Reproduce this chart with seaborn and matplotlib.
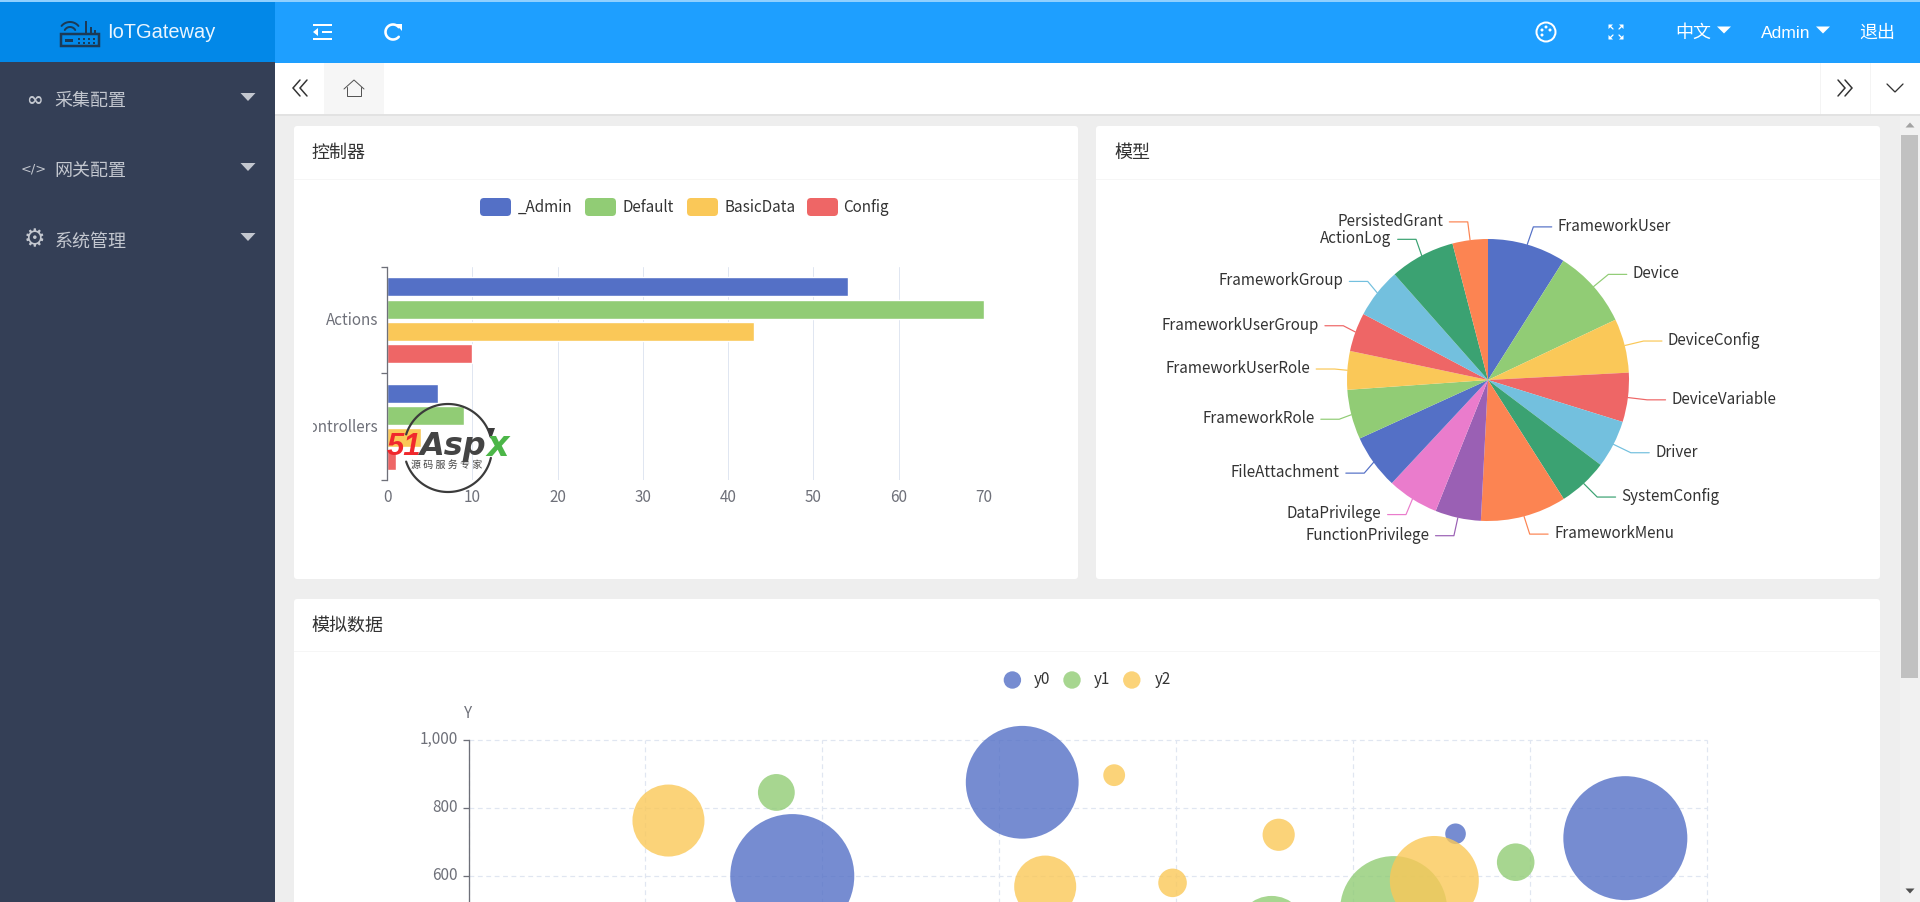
import numpy as np
import pandas as pd
import matplotlib
matplotlib.use("Agg")  # Headless mode for saving files
import matplotlib.pyplot as plt
import seaborn as sns
from matplotlib.patches import Rectangle, FancyBboxPatch, Polygon, Circle
from matplotlib.transforms import Bbox, ScaledTranslation

# Bar chart data
BAR_KINDS = ["Actions", "Controllers"]
BAR_GROUPS = ["_Admin", "Default", "BasicData", "Config"]
ACTIONS_COUNTS = [54, 70, 43, 10]
CONTROLLERS_COUNTS = [6, 9, 4, 1]
BAR_TICKS = [0, 10, 20, 30, 40, 50, 60, 70]

# Pie chart data
PIE_LABELS = [
    "FrameworkUser", "Device", "DeviceConfig", "DeviceVariable", "Driver",
    "SystemConfig", "FrameworkMenu", "FunctionPrivilege", "DataPrivilege",
    "FileAttachment", "FrameworkRole", "FrameworkUserRole",
    "FrameworkUserGroup", "FrameworkGroup", "ActionLog", "PersistedGrant",
]
PIE_VALUES = [32.3, 32.4, 22.3, 20.3, 19.7, 20.5, 35.4, 18.9,
              21.2, 22.5, 20.5, 15.9, 16.0, 20.6, 26.9, 14.6]

# Sideways pull of each leader elbow, pixels
LEADER_SHIFT = [1, 1, 1, 1, 1, 1, 1, 0, 3.4, 5.6, 5.7, 5.6, 5.2, 5, 3, 0]

# Bubble chart data
Y0_X = [183, 313, 558, 654]
Y0_Y = [599, 876, 724, 711]
Y0_SIZE = [3844, 3181, 106, 3844]
Y1_X = [174, 523, 592, 454]
Y1_Y = [846, 500, 640, 437]
Y1_SIZE = [339, 2862, 353, 1225]
Y2_X = [113, 326, 365, 398, 458, 546]
Y2_Y = [763, 568, 897, 579, 721, 586]
Y2_SIZE = [1296, 961, 119, 204, 259, 1980]
BUBBLE_YTICKS = [600, 800, 1000]
BUBBLE_YLABELS = ["600", "800", "1,000"]
BUBBLE_XTICKS = [0, 100, 200, 300, 400, 500, 600, 700]

# Page text
MENU_ITEMS = ["采集配置", "网关配置", "系统管理"]
CARD_TITLES = ["控制器", "模型", "模拟数据"]

# Colors
PALETTE = ["#5470c6", "#91cc75", "#fac858", "#ee6666", "#73c0de",
           "#3ba272", "#fc8452", "#9a60b4", "#ea7ccc"]
HEADER = "#1e9fff"
LOGO_BG = "#0288e8"
SIDEBAR = "#343f56"
PAGE_BG = "#eeeeee"
AXIS_COLOR = "#6e7079"
GRID_COLOR = "#e0e6f1"
TEXT_COLOR = "#333333"
MENU_TEXT = "#c3c7cf"

W, H = 1920, 902
CJK = ["Noto Sans CJK SC", "DejaVu Sans"]
CHART_FONT = 15.2

sns.set_theme(style="white")
plt.rcParams["font.family"] = CJK


def px(size):
    """Font size or line width in points from screen pixels."""
    return size * 0.72


def axes_px(fig, left, top, right, bottom, **kwargs):
    return fig.add_axes([left / W, 1 - bottom / H, (right - left) / W, (bottom - top) / H], **kwargs)


def pixel_layer(fig, zorder):
    ax = fig.add_axes([0, 0, 1, 1], zorder=zorder)
    ax.set_xlim(0, W)
    ax.set_ylim(H, 0)
    ax.axis("off")
    ax.patch.set_alpha(0)
    return ax


def rect(ax, x0, y0, x1, y1, color):
    ax.add_patch(Rectangle((x0, y0), x1 - x0, y1 - y0, facecolor=color, edgecolor="none"))


def card(ax, x0, y0, x1, y1):
    ax.add_patch(FancyBboxPatch((x0 + 2, y0 + 2), x1 - x0 - 4, y1 - y0 - 4,
                                boxstyle="round,pad=2,rounding_size=3",
                                facecolor="white", edgecolor="none"))


def polyline(ax, xs, ys, color, lw=1.5):
    ax.plot(xs, ys, color=color, lw=px(lw), solid_capstyle="round", solid_joinstyle="miter")


def triangle(ax, x, y, w, h, color, up=False):
    if up:
        pts = [(x - w / 2, y + h / 2), (x + w / 2, y + h / 2), (x, y - h / 2)]
    else:
        pts = [(x - w / 2, y - h / 2), (x + w / 2, y - h / 2), (x, y + h / 2)]
    ax.add_patch(Polygon(pts, closed=True, facecolor=color, edgecolor="none"))


def arc(ax, x, y, r, a0, a1, color, lw=1.5):
    t = np.radians(np.linspace(a0, a1, 60))
    ax.plot(x + r * np.cos(t), y - r * np.sin(t), color=color, lw=px(lw))


def nudge(labels, dy):
    # Move tick labels down by dy pixels
    for label in labels:
        offset = ScaledTranslation(0, -dy / 100, label.figure.dpi_scale_trans)
        label.set_transform(label.get_transform() + offset)


def draw_page(ax):
    # Main blocks
    rect(ax, 0, 0, W, H, PAGE_BG)
    rect(ax, 0, 62, 275, H, SIDEBAR)
    rect(ax, 275, 0, W, 63, HEADER)
    rect(ax, 0, 0, 275, 62, LOGO_BG)
    rect(ax, 0, 0, W, 1.5, "#8fd0ff")
    rect(ax, 275, 63, W, 114, "white")
    rect(ax, 275, 114, W, 115.5, "#e2e2e2")
    rect(ax, 324, 63, 384, 114, "#f6f6f6")
    rect(ax, 1820, 63, 1821, 114, "#f4f4f4")
    rect(ax, 1870, 63, 1871, 114, "#f4f4f4")

    # Scrollbar
    rect(ax, 1900, 115.5, W, H, "#f1f1f1")
    rect(ax, 1901, 135, 1918, 678, "#c1c1c1")
    triangle(ax, 1910, 125, 9, 5, "#a3a3a3", up=True)
    triangle(ax, 1910, 891, 9, 5, "#505050")

    # Cards
    card(ax, 294, 126, 1078, 579)
    card(ax, 1096, 126, 1880, 579)
    card(ax, 294, 599, 1880, 930)
    rect(ax, 294, 179, 1078, 180, "#f6f6f6")
    rect(ax, 1096, 179, 1880, 180, "#f6f6f6")
    rect(ax, 294, 651, 1880, 652, "#f6f6f6")
    for x, y, title in zip([311, 1114, 311], [153, 153, 626], CARD_TITLES):
        ax.text(x, y, title, fontsize=px(18), color=TEXT_COLOR, va="center", ha="left")

    # Logo
    dark = "#1b3a57"
    ax.add_patch(Rectangle((61, 34), 38, 12, facecolor="none", edgecolor=dark, lw=px(2.5)))
    rect(ax, 85, 21, 87, 34, dark)
    rect(ax, 90, 27, 92, 34, dark)
    rect(ax, 94, 30, 96, 34, dark)
    rect(ax, 65, 39, 73, 42, dark)
    for dx in (78, 83, 88, 93):
        rect(ax, dx, 38, dx + 2, 40, dark)
        rect(ax, dx, 42, dx + 2, 44, dark)
    arc(ax, 70, 33, 6, 30, 150, dark, 2)
    arc(ax, 70, 33, 11, 40, 140, dark, 2)
    ax.text(107, 33, "IoTGateway", fontsize=px(20), color="#eaf5ff", va="center",
            ha="left", family="Liberation Sans")

    # Sidebar menu
    for y, label in zip([99, 169, 239], MENU_ITEMS):
        ax.text(54.5, y + 2.2, label, fontsize=px(18), color=MENU_TEXT, va="center", ha="left")
        triangle(ax, 248, y - 2, 15, 8, MENU_TEXT)
    ax.text(34, 100, "∞", fontsize=px(20), color=MENU_TEXT, va="center", ha="center",
            family="DejaVu Sans", fontweight="bold")
    ax.text(34, 169, "</>", fontsize=px(13), color=MENU_TEXT, va="center", ha="center", family="DejaVu Sans")
    ax.text(34, 239, "⚙", fontsize=px(24), color=MENU_TEXT, va="center", ha="center", family="DejaVu Sans")

    # Header left icons
    for y in (25, 32, 39):
        x0 = 313 if y != 32 else 322
        rect(ax, x0, y - 1.3, 332, y + 1.3, "white")
    triangle_pts = [(318, 28), (318, 36), (313, 32)]
    ax.add_patch(Polygon(triangle_pts, closed=True, facecolor="white", edgecolor="none"))
    arc(ax, 393, 32, 7.5, 40, 320, "white", 2.6)
    ax.add_patch(Polygon([(396, 24), (402, 24), (402, 31)], closed=True, facecolor="white", edgecolor="none"))

    # Header right icons and text
    ax.add_patch(Circle((1546, 32), 9.5, facecolor="none", edgecolor="white", lw=px(2)))
    for dx, dy in [(-4, -2), (0, -5), (4, -2), (-4, 3)]:
        ax.add_patch(Circle((1546 + dx, 32 + dy), 1.5, facecolor="white", edgecolor="none"))
    for sx, sy in [(-1, -1), (1, -1), (-1, 1), (1, 1)]:
        polyline(ax, [1616 + sx * 3, 1616 + sx * 6.5], [32 + sy * 3, 32 + sy * 6.5], "white", 1.3)
        tip_x, tip_y = 1616 + sx * 7.5, 32 + sy * 7.5
        ax.add_patch(Polygon([(tip_x, tip_y), (tip_x - sx * 4.5, tip_y), (tip_x, tip_y - sy * 4.5)],
                             closed=True, facecolor="white", edgecolor="none"))
    ax.text(1675.5, 33, "中文", fontsize=px(18), color="white", va="center", ha="left")
    triangle(ax, 1724, 30, 14, 7, "white")
    ax.text(1761, 33, "Admin", fontsize=px(17.5), color="white", va="center", ha="left", family="Liberation Sans")
    triangle(ax, 1823, 30, 14, 7, "white")
    ax.text(1859, 33, "退出", fontsize=px(18), color="white", va="center", ha="left")

    # Tab bar icons
    for dx in (0, 7):
        polyline(ax, [300 + dx, 293 + dx, 300 + dx], [80, 88, 96], "#333333", 1.5)
        polyline(ax, [1838 + dx, 1845 + dx, 1838 + dx], [80, 88, 96], "#333333", 1.5)
    polyline(ax, [1887, 1895, 1903], [84, 92, 84], "#333333", 1.3)
    polyline(ax, [344, 354, 364], [89, 80, 89], "#555555", 1)
    polyline(ax, [347, 347, 361, 361], [87, 96, 96, 87], "#555555", 1)


def draw_legends(ax):
    # Bar legend swatches
    swatch_x = [480, 585, 687, 807]
    text_x = [518, 622.5, 725, 843.5]
    for i, name in enumerate(BAR_GROUPS):
        ax.add_patch(FancyBboxPatch((swatch_x[i] + 4, 202), 23, 10,
                                    boxstyle="round,pad=4,rounding_size=4",
                                    facecolor=PALETTE[i], edgecolor="none"))
        ax.text(text_x[i], 207, name, fontsize=px(CHART_FONT), color=TEXT_COLOR, va="center", ha="left")

    # Bubble legend markers
    dot_x = [1012.4, 1072, 1131.8]
    label_x = [1034, 1094, 1154.6]
    for i, name in enumerate(["y0", "y1", "y2"]):
        ax.add_patch(Circle((dot_x[i], 680), 8.7, facecolor=PALETTE[i], edgecolor="none", alpha=0.8))
        ax.text(label_x[i], 680, name, fontsize=px(CHART_FONT), color=TEXT_COLOR, va="center", ha="left")
    ax.text(467.6, 713.7, "Y", fontsize=px(CHART_FONT), color=AXIS_COLOR, va="center", ha="center")


def draw_watermark(ax):
    # Site stamp across the lower bars
    stroke = "#3b3b3b"
    arc(ax, 448, 448, 44, 15, 162, stroke, 2.2)
    arc(ax, 448, 448, 44, -13, -162, stroke, 2.2)
    ax.add_patch(Polygon([(487, 428), (495, 428), (491, 439)], closed=True, facecolor=stroke, edgecolor="none"))
    ax.text(387, 447, "51", color="#f0282d", fontsize=px(31), fontweight="bold", fontstyle="italic",
            va="center", ha="left", family="Liberation Sans")
    ax.text(419, 446, "Asp", color="#444444", fontsize=px(32), fontweight="bold", fontstyle="oblique",
            va="center", ha="left", family="DejaVu Sans")
    ax.text(486, 446, "x", color="#4cb648", fontsize=px(35), fontweight="bold", fontstyle="oblique",
            va="center", ha="left", family="DejaVu Sans")
    ax.text(447, 465, "源 码 服 务 专 家", fontsize=px(10), color="#444444", va="center", ha="center")


def draw_bar_chart(fig):
    df = pd.DataFrame({
        "kind": [BAR_KINDS[0]] * 4 + [BAR_KINDS[1]] * 4,
        "group": BAR_GROUPS * 2,
        "count": ACTIONS_COUNTS + CONTROLLERS_COUNTS,
    })
    ax = axes_px(fig, 387, 267, 984, 480, zorder=2)
    ax.patch.set_alpha(0)
    sns.barplot(data=df, x="count", y="kind", hue="group", hue_order=BAR_GROUPS,
                palette=PALETTE[:4], saturation=1, width=0.838, gap=0.14,
                legend=False, ax=ax)
    ax.set_xlim(0, 70)
    ax.set_ylim(1.5, -0.5)
    ax.set_xlabel("")
    ax.set_ylabel("")
    sns.despine(ax=ax, top=True, right=True, bottom=True, left=False)
    ax.spines["left"].set_color(AXIS_COLOR)
    ax.spines["left"].set_linewidth(px(1.3))

    ax.set_xticks(BAR_TICKS)
    ax.tick_params(axis="x", length=0, pad=px(9), labelsize=px(CHART_FONT), labelcolor=AXIS_COLOR)
    ax.grid(axis="x", color=GRID_COLOR, lw=px(1))
    ax.grid(axis="y", visible=False)
    ax.set_axisbelow(True)

    # Ticks sit on the band edges, labels in the band centres
    ax.set_yticks([-0.5, 0.5, 1.5], labels=["", "", ""])
    ax.set_yticks([0, 1], labels=BAR_KINDS, minor=True)
    ax.tick_params(axis="y", which="major", left=True, length=px(6), width=px(1.3), color=AXIS_COLOR)
    ax.tick_params(axis="y", which="minor", left=False, length=0, pad=px(9),
                   labelsize=px(CHART_FONT), labelcolor=AXIS_COLOR)
    nudge(ax.get_yticklabels(minor=True), -1.5)

    # The long label is cut off by the card's chart area
    clip = Bbox([[313, 0], [W, H]])
    for label in ax.get_yticklabels(minor=True):
        label.set_clip_box(clip)
        label.set_clip_on(True)


def draw_pie_chart(fig):
    cx, cy, r = 1488, 380, 141
    ax = axes_px(fig, cx - r, cy - r, cx + r, cy + r, zorder=2)
    colors = [PALETTE[i % len(PALETTE)] for i in range(len(PIE_VALUES))]
    wedges, _ = ax.pie(PIE_VALUES, colors=colors, startangle=90, counterclock=False,
                       radius=1, wedgeprops={"linewidth": 0})
    ax.set_xlim(-1, 1)
    ax.set_ylim(-1, 1)

    # Leader lines and labels
    radial = 1 + 18.4 / r
    run = 18.4 / r
    gap = 6 / r
    for wedge, label, shift in zip(wedges, PIE_LABELS, LEADER_SHIFT):
        mid = np.radians((wedge.theta1 + wedge.theta2) / 2)
        side = 1 if np.cos(mid) >= 0 else -1
        ex, ey = radial * np.cos(mid) + shift / r, radial * np.sin(mid)
        ax.plot([np.cos(mid), ex, ex + side * run], [np.sin(mid), ey, ey],
                color=wedge.get_facecolor(), lw=px(1.2), clip_on=False)
        ax.text(ex + side * (run + gap), ey + 0.7 / r, label, fontsize=px(CHART_FONT), color=TEXT_COLOR,
                va="center", ha="left" if side > 0 else "right", clip_on=False)


def draw_bubble_chart(fig):
    df = pd.DataFrame({
        "x": Y0_X + Y1_X + Y2_X,
        "y": Y0_Y + Y1_Y + Y2_Y,
        "size": Y0_SIZE + Y1_SIZE + Y2_SIZE,
        "series": ["y0"] * len(Y0_X) + ["y1"] * len(Y1_X) + ["y2"] * len(Y2_X),
    })
    # Axes runs past the bottom of the screenshot, as the page is scrolled
    ax = axes_px(fig, 468.6, 740.3, 1706.7, 1078.9, zorder=2)
    ax.patch.set_alpha(0)
    area = 2.0736  # squared pixel radius to marker area
    sns.scatterplot(data=df, x="x", y="y", hue="series", size="size",
                    palette=PALETTE[:3], sizes=(area * df["size"].min(), area * df["size"].max()),
                    alpha=0.8, linewidth=0, edgecolor="none", legend=False, clip_on=False, ax=ax)
    ax.set_xlim(0, 700)
    ax.set_ylim(0, 1000)
    ax.set_xlabel("")
    ax.set_ylabel("")
    sns.despine(ax=ax, top=True, right=True, bottom=True, left=False)
    ax.spines["left"].set_color(AXIS_COLOR)
    ax.spines["left"].set_linewidth(px(1.3))

    ax.set_xticks(BUBBLE_XTICKS)
    ax.set_yticks(BUBBLE_YTICKS, labels=BUBBLE_YLABELS)
    ax.tick_params(axis="x", length=0, labelbottom=False)
    ax.tick_params(axis="y", left=True, length=px(6), width=px(1.3), color=AXIS_COLOR, pad=px(5),
                   labelsize=px(CHART_FONT), labelcolor=AXIS_COLOR)
    nudge(ax.get_yticklabels(), -2.5)
    ax.grid(True, color=GRID_COLOR, lw=px(1.2), linestyle=(0, (4, 3)))
    ax.set_axisbelow(True)
    for line in ax.get_xgridlines() + ax.get_ygridlines():
        line.set_clip_on(False)


if __name__ == "__main__":
    fig = plt.figure(figsize=(W / 100, H / 100), dpi=100)

    page = pixel_layer(fig, 0)
    draw_page(page)

    draw_bar_chart(fig)
    draw_pie_chart(fig)
    draw_bubble_chart(fig)

    top = pixel_layer(fig, 10)
    draw_legends(top)
    draw_watermark(top)

    fig.savefig("out.png", dpi=100)
    print("Saved: out.png")
